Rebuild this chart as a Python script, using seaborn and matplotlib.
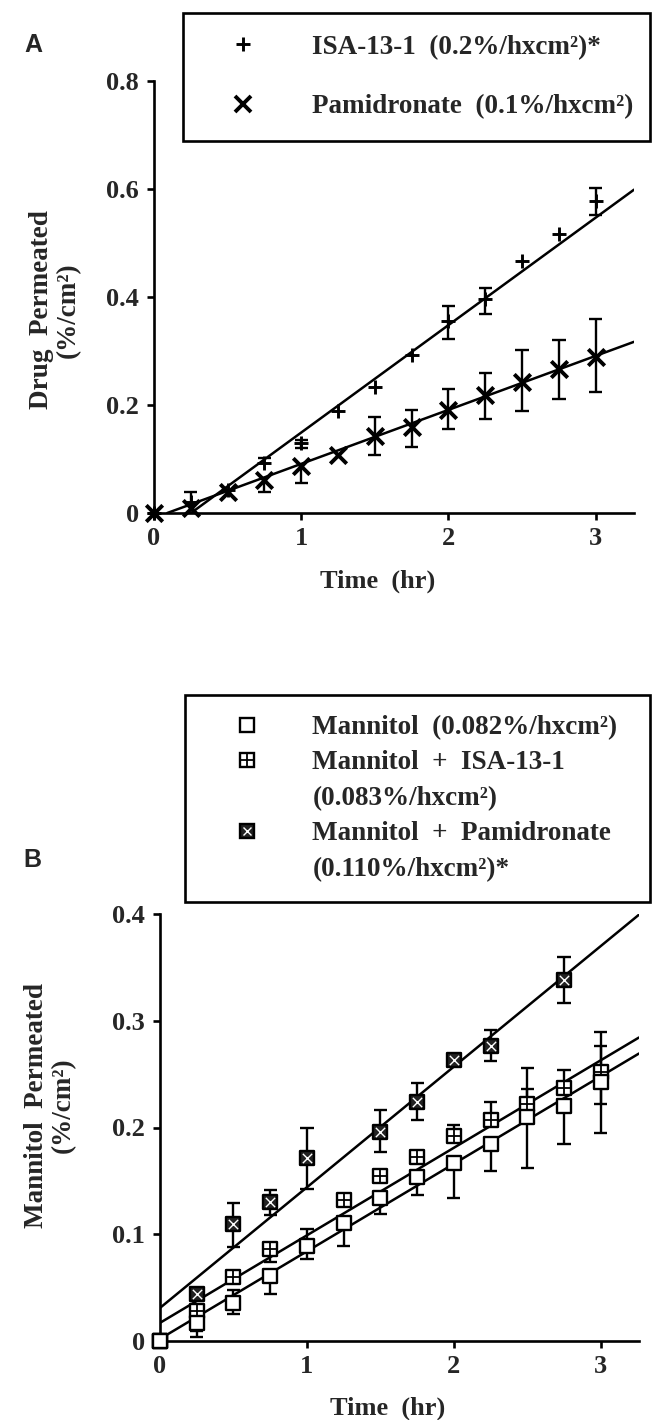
import numpy as np
import matplotlib
matplotlib.use("Agg")
import matplotlib.pyplot as plt
from matplotlib.lines import Line2D
from matplotlib.ticker import FuncFormatter
import seaborn as sns

# --- Panel A: drug permeation ---
time_a = [0, 0.25, 0.5, 0.75, 1.0, 1.25, 1.5, 1.75, 2.0, 2.25, 2.5, 2.75, 3.0]
isa_a = [0, 0.020, 0.042, 0.092, 0.129, 0.188, 0.233, 0.293, 0.356, 0.396, 0.466, 0.517, 0.577]
isa_a_up = [0, 0.018, 0, 0.009, 0.006, 0, 0, 0, 0.027, 0.021, 0, 0, 0.025]
isa_a_dn = [0, 0, 0, 0, 0.008, 0, 0, 0, 0.034, 0.028, 0, 0, 0.026]
pam_a = [0, 0.010, 0.039, 0.062, 0.087, 0.107, 0.142, 0.160, 0.191, 0.219, 0.243, 0.266, 0.289]
pam_a_up = [0, 0, 0, 0, 0, 0, 0.035, 0.031, 0.038, 0.041, 0.058, 0.054, 0.070]
pam_a_dn = [0, 0, 0, 0.023, 0.031, 0, 0.035, 0.037, 0.036, 0.044, 0.054, 0.054, 0.064]
fit_a_slope = [0.199, 0.100]
fit_a_icpt = [-0.050, -0.009]
labels_a = ["ISA-13-1  (0.2%/hxcm²)*", "Pamidronate  (0.1%/hxcm²)"]

# --- Panel B: mannitol permeation ---
time_b = [0, 0.25, 0.5, 0.75, 1.0, 1.25, 1.5, 1.75, 2.0, 2.25, 2.5, 2.75, 3.0]
man_b = [0, 0.017, 0.036, 0.061, 0.089, 0.111, 0.134, 0.154, 0.167, 0.185, 0.210, 0.220, 0.243]
man_b_up = [0, 0, 0.012, 0, 0.016, 0, 0, 0, 0, 0, 0.046, 0, 0.033]
man_b_dn = [0, 0.013, 0.011, 0.017, 0.012, 0.022, 0.015, 0.017, 0.033, 0.026, 0.048, 0.035, 0.048]
isa_b = [0, 0.028, 0.060, 0.086, np.nan, 0.132, 0.155, 0.172, 0.192, 0.207, 0.222, 0.237, 0.252]
isa_b_up = [0, 0, 0, 0, 0, 0, 0, 0, 0.010, 0.017, 0.014, 0.017, 0.037]
isa_b_dn = [0, 0.019, 0, 0.012, 0, 0, 0, 0, 0, 0, 0, 0, 0.030]
pam_b = [0, 0.044, 0.110, 0.130, 0.171, np.nan, 0.196, 0.224, 0.263, 0.276, np.nan, 0.338, np.nan]
pam_b_up = [0, 0, 0.019, 0.011, 0.029, 0, 0.020, 0.018, 0, 0.015, 0, 0.022, 0]
pam_b_dn = [0, 0, 0.022, 0.012, 0.029, 0, 0.019, 0.017, 0, 0.014, 0, 0.021, 0]
fit_b_slope = [0.082, 0.082, 0.113]
fit_b_icpt = [0.002, 0.017, 0.031]
labels_b = ["Mannitol  (0.082%/hxcm²)", "Mannitol  +  ISA-13-1", "(0.083%/hxcm²)",
            "Mannitol  +  Pamidronate", "(0.110%/hxcm²)*"]

X_MAX = 3.26
SERIF = ["Liberation Serif", "DejaVu Serif"]
LW = 1.9

sns.set_style("ticks")
plt.rcParams["font.family"] = SERIF
plt.rcParams["font.weight"] = "bold"
plt.rcParams["axes.labelweight"] = "bold"


def error_bars(ax, t, y, up, dn, cap=0.045):
    t, y, up, dn = map(np.asarray, (t, y, up, dn))
    ok = ~np.isnan(y)
    for mask, ends in [((up > 0) & ok, y + up), ((dn > 0) & ok, y - dn)]:
        ax.vlines(t[mask], y[mask], ends[mask], color="black", lw=1.7, zorder=2, clip_on=False)
        ax.hlines(ends[mask], t[mask] - cap, t[mask] + cap, color="black", lw=1.7,
                  zorder=2, clip_on=False)


def fit_line(ax, slope, icpt):
    x0 = max(0.0, -icpt / slope)
    xs = np.linspace(x0, X_MAX, 2)
    sns.lineplot(x=xs, y=slope * xs + icpt, color="black", lw=1.8, ax=ax, zorder=2)


def style_axes(ax, ymax, yticks):
    ax.set_xlim(0, X_MAX)
    ax.set_ylim(0, ymax)
    ax.set_xticks([0, 1, 2, 3])
    ax.set_yticks(yticks)
    ax.yaxis.set_major_formatter(FuncFormatter(lambda v, p: "0" if v == 0 else f"{v:g}"))
    sns.despine(ax=ax)
    for s in ["left", "bottom"]:
        ax.spines[s].set_linewidth(LW)
        ax.spines[s].set_color("black")
    ax.tick_params(direction="out", length=5, width=LW, labelsize=19, color="black")
    ax.tick_params(axis="y", pad=6)
    ax.tick_params(axis="x", pad=5)
    ax.set_xlabel("Time  (hr)", fontsize=19)


fig = plt.figure(figsize=(6.52, 14.2), dpi=100)
W, H = 652, 1420

# ---------------- Panel A ----------------
axA = fig.add_axes([154 / W, 1 - 513 / H, 480 / W, 432 / H])
for sl, ic in zip(fit_a_slope, fit_a_icpt):
    fit_line(axA, sl, ic)
error_bars(axA, time_a, isa_a, isa_a_up, isa_a_dn)
error_bars(axA, time_a, pam_a, pam_a_up, pam_a_dn)
sns.scatterplot(x=time_a, y=isa_a, marker="+", s=115, color="black", linewidth=2.1,
                ax=axA, zorder=3, clip_on=False)
sns.scatterplot(x=time_a, y=pam_a, marker="x", s=140, color="black", linewidth=2.8,
                ax=axA, zorder=3, clip_on=False)
style_axes(axA, 0.8, [0, 0.2, 0.4, 0.6, 0.8])
axA.set_ylabel("Drug  Permeated\n(%/cm²)", fontsize=19.5, linespacing=1.1)
axA.yaxis.set_label_coords((81 - 154) / 480, (513 - 310) / 432)
axA.xaxis.set_label_coords((378 - 154) / 480, (513 - 570) / 432)

hA = [Line2D([], [], ls="none", marker="+", ms=10.5, mew=2.1, color="black"),
      Line2D([], [], ls="none", marker="x", ms=11, mew=2.8, color="black")]
legA = axA.legend(hA, labels_a, loc="upper left", mode="expand",
                  bbox_to_anchor=(183 / W, 1 - 13 / H, 467 / W, 0), bbox_transform=fig.transFigure,
                  borderaxespad=0, borderpad=0.8, labelspacing=1.27, handlelength=2.85,
                  handletextpad=1.13, fancybox=False, edgecolor="black", framealpha=1,
                  prop={"family": SERIF, "weight": "bold", "size": 19.5})
legA.get_frame().set_linewidth(LW)

fig.text(33 / W, 1 - 45 / H, "A", family=["Liberation Sans", "DejaVu Sans"],
         weight="bold", fontsize=18, ha="center", va="center")

# ---------------- Panel B ----------------
axB = fig.add_axes([160 / W, 1 - 1341 / H, 479 / W, 427 / H])
for sl, ic in zip(fit_b_slope, fit_b_icpt):
    fit_line(axB, sl, ic)
error_bars(axB, time_b, man_b, man_b_up, man_b_dn)
error_bars(axB, time_b, isa_b, isa_b_up, isa_b_dn)
error_bars(axB, time_b, pam_b, pam_b_up, pam_b_dn)
sq = 100
sns.scatterplot(x=time_b, y=pam_b, marker="s", s=sq, facecolor="#222222", edgecolor="black",
                linewidth=1.7, ax=axB, zorder=3, clip_on=False)
sns.scatterplot(x=time_b, y=pam_b, marker="x", s=sq * 0.45, color="white", linewidth=1.0,
                ax=axB, zorder=4, clip_on=False)
sns.scatterplot(x=time_b, y=isa_b, marker="s", s=sq, facecolor="white", edgecolor="black",
                linewidth=1.7, ax=axB, zorder=5, clip_on=False)
sns.scatterplot(x=time_b, y=isa_b, marker="+", s=sq, color="black", linewidth=1.3,
                ax=axB, zorder=6, clip_on=False)
sns.scatterplot(x=time_b, y=man_b, marker="s", s=sq, facecolor="white", edgecolor="black",
                linewidth=1.7, ax=axB, zorder=7, clip_on=False)
style_axes(axB, 0.4, [0, 0.1, 0.2, 0.3, 0.4])
axB.set_ylabel("Mannitol  Permeated\n(%/cm²)", fontsize=19.5, linespacing=1.1)
axB.yaxis.set_label_coords((76 - 160) / 479, (1341 - 1105) / 427)
axB.xaxis.set_label_coords((388 - 160) / 479, (1341 - 1397) / 427)

ms = 9.5
h_man = Line2D([], [], ls="none", marker="s", ms=ms, mfc="white", mec="black", mew=1.7)
h_isa = (Line2D([], [], ls="none", marker="s", ms=ms, mfc="white", mec="black", mew=1.7),
         Line2D([], [], ls="none", marker="+", ms=ms, mec="black", mew=1.3))
h_pam = (Line2D([], [], ls="none", marker="s", ms=ms, mfc="#222222", mec="black", mew=1.7),
         Line2D([], [], ls="none", marker="x", ms=ms * 0.65, mec="white", mew=1.0))
h_blank = Line2D([], [], ls="none")
legB = axB.legend([h_man, h_isa, h_blank, h_pam, h_blank], labels_b, loc="upper left",
                  mode="expand", bbox_to_anchor=(185 / W, 1 - 695 / H, 465 / W, 0),
                  bbox_transform=fig.transFigure, borderaxespad=0, borderpad=0.74,
                  labelspacing=0.385, handlelength=3.1, handletextpad=0.86, fancybox=False,
                  edgecolor="black", framealpha=1,
                  prop={"family": SERIF, "weight": "bold", "size": 19.5})
legB.get_frame().set_linewidth(LW)

fig.text(32 / W, 1 - 860 / H, "B", family=["Liberation Sans", "DejaVu Sans"],
         weight="bold", fontsize=18, ha="center", va="center")

fig.savefig("out.png", dpi=100)
